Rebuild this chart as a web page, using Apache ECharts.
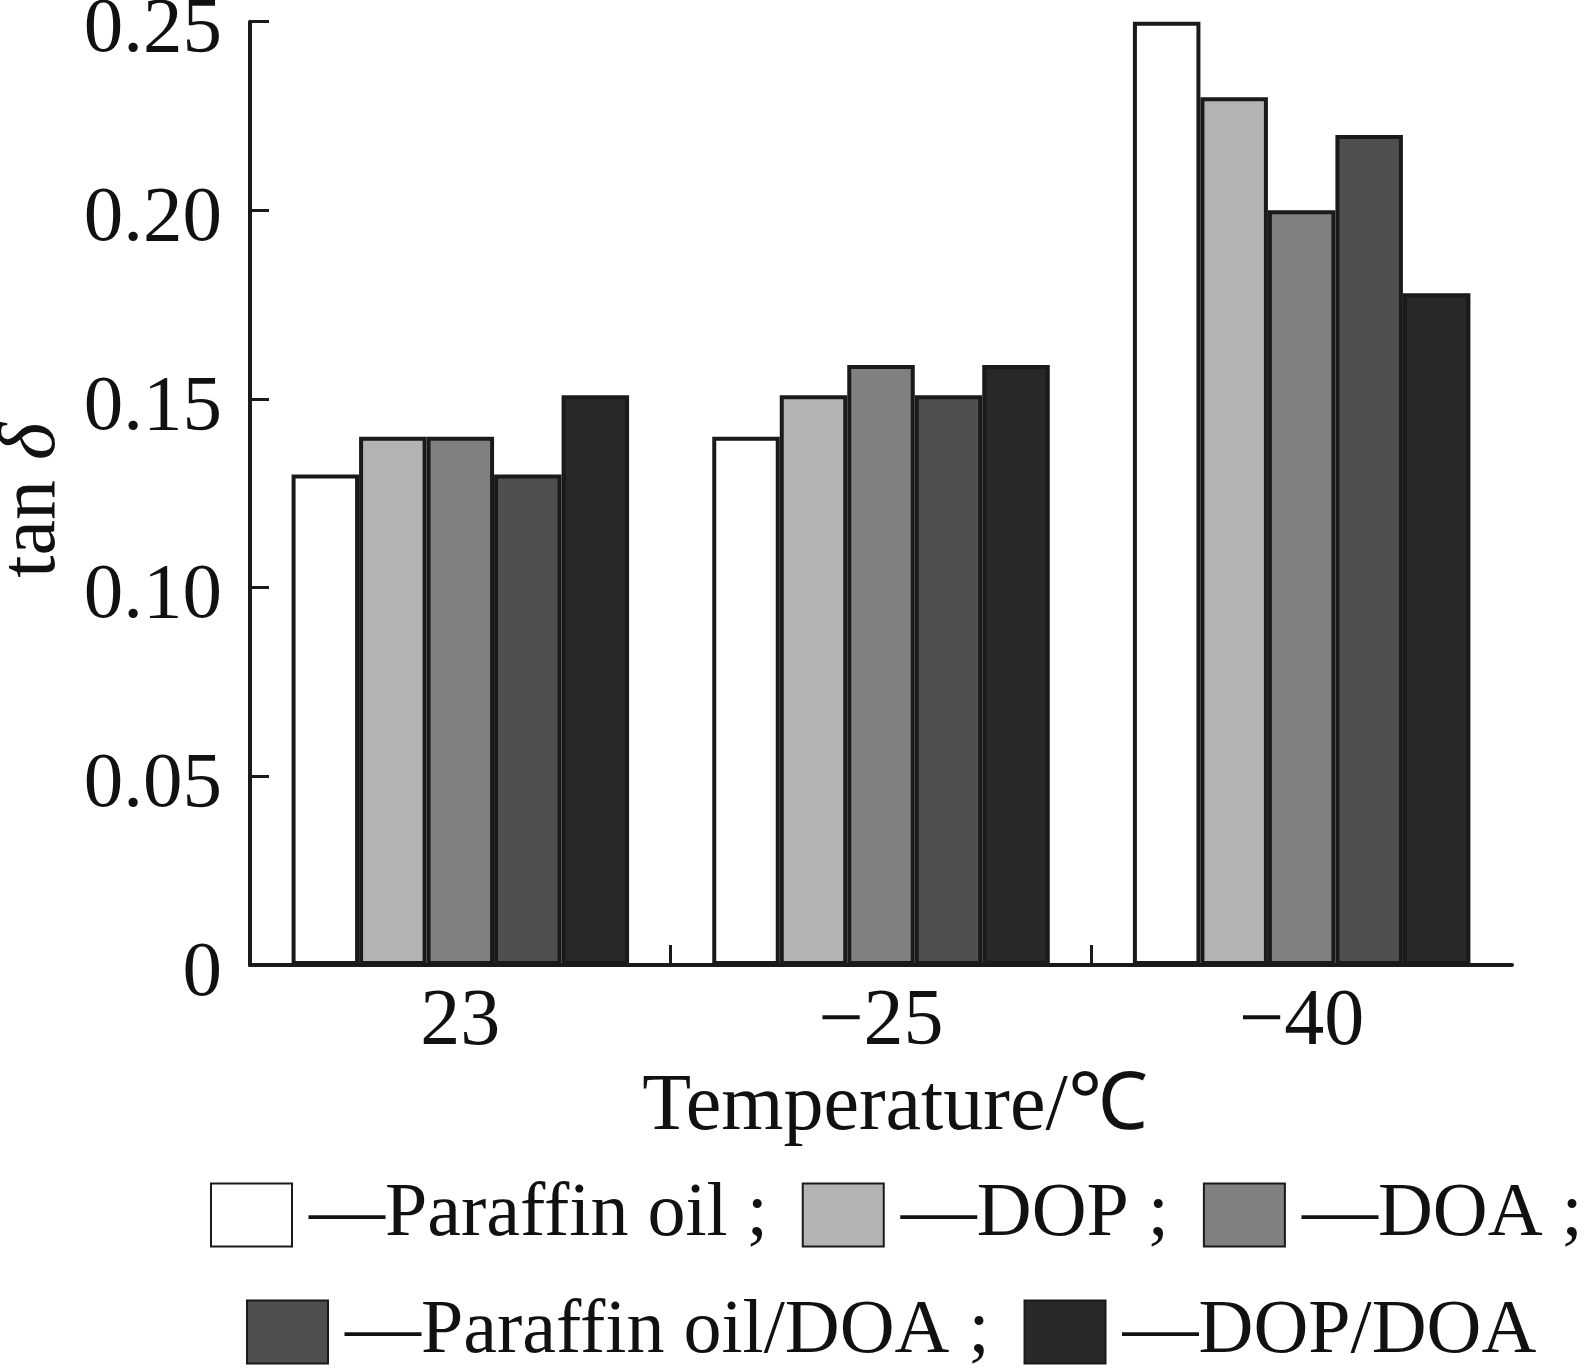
<!DOCTYPE html>
<html>
<head>
<meta charset="utf-8">
<script src="https://cdn.jsdelivr.net/npm/echarts@6/dist/echarts.min.js"></script>
<style>html,body{margin:0;padding:0;background:#fff;}#c{width:1587px;height:1371px;}</style>
</head>
<body>
<div id="c"></div>
<script>
const categories = ['23', '\u221225', '\u221240'];
const seriesNames = ['Paraffin oil', 'DOP', 'DOA', 'Paraffin oil/DOA', 'DOP/DOA'];
const paraffinOil = [0.13, 0.14, 0.25];
const dop = [0.14, 0.151, 0.230];
const doa = [0.14, 0.159, 0.200];
const paraffinDoa = [0.13, 0.151, 0.220];
const dopDoa = [0.151, 0.159, 0.178];
const yTicks = [0, 0.05, 0.10, 0.15, 0.20, 0.25];
const groupBoundaries = [1, 2];

const seriesData = [paraffinOil, dop, doa, paraffinDoa, dopDoa];
const fills = ['#ffffff', '#b3b3b3', '#808080', '#4f4f4f', '#282828'];
const FONT = 'Liberation Serif';

const chart = echarts.init(document.getElementById('c'));
const legendText = (name) => {
  const suffix = name === 'DOP/DOA' ? '' : ' ;';
  return '{t|\u2014' + name + suffix + '}';
};
const legendStyle = {
  color: '#111', fontFamily: FONT, fontSize: 76,
  rich: { t: { color: '#111', fontFamily: FONT, fontSize: 76, padding: [0, 0, 0, 12] } }
};
chart.setOption({
  animation: false,
  backgroundColor: '#ffffff',
  grid: { left: 250, right: 75, top: 21.7, bottom: 406, containLabel: false, outerBoundsMode: 'none' },
  xAxis: [
    {
      type: 'category',
      data: categories,
      boundaryGap: true,
      position: 'bottom',
      axisLine: { lineStyle: { color: '#1a1a1a', width: 4 } },
      axisTick: { show: false },
      axisLabel: { color: '#111', fontFamily: FONT, fontSize: 80, margin: 18 },
      name: 'Temperature/\u2103',
      nameLocation: 'middle',
      nameGap: 94,
      nameTextStyle: { color: '#111', fontFamily: FONT, fontSize: 80, padding: [0, 0, 0, 28] }
    },
    {
      type: 'value',
      position: 'bottom',
      min: 0, max: categories.length,
      axisLine: { show: false },
      axisLabel: { show: false },
      splitLine: { show: false },
      axisTick: { show: true, inside: true, length: 20, customValues: groupBoundaries,
        lineStyle: { color: '#1a1a1a', width: 3 } }
    }
  ],
  yAxis: {
    type: 'value',
    min: 0, max: 0.25, interval: 0.05,
    axisLine: { show: true, lineStyle: { color: '#1a1a1a', width: 4 } },
    axisTick: { show: true, inside: true, length: 19, lineStyle: { color: '#1a1a1a', width: 3 } },
    splitLine: { show: false },
    axisLabel: {
      margin: 28,
      formatter: function (v) {
        const t = yTicks.find(x => Math.abs(x - v) < 1e-9);
        return '{v|' + (t === 0 ? '0' : t.toFixed(2)) + '}';
      },
      rich: { v: { color: '#111', fontFamily: FONT, fontSize: 79, padding: [18, 0, 0, 0] } }
    },
    name: '{a|tan }{b|\u03b4}',
    nameLocation: 'middle',
    nameRotate: 90,
    nameGap: 175,
    nameTextStyle: {
      padding: [0, 14, 0, 0],
      rich: {
        a: { color: '#111', fontFamily: FONT, fontSize: 80 },
        b: { color: '#111', fontFamily: FONT, fontSize: 80, fontStyle: 'italic' }
      }
    }
  },
  legend: [
    {
      data: seriesNames.slice(0, 3), left: 210, top: 1177, width: 1500, padding: 0, orient: 'horizontal',
      itemWidth: 81, itemHeight: 63, itemGap: 34, icon: 'rect',
      formatter: legendText, textStyle: legendStyle
    },
    {
      data: seriesNames.slice(3), left: 246, top: 1294, width: 1500, padding: 0, orient: 'horizontal',
      itemWidth: 81, itemHeight: 63, itemGap: 34, icon: 'rect',
      formatter: legendText, textStyle: legendStyle
    }
  ],
  series: seriesNames.map((n, i) => ({
    name: n,
    type: 'bar',
    xAxisIndex: 0,
    data: seriesData[i],
    barWidth: 67.5,
    barGap: '0%',
    itemStyle: { color: fills[i], borderColor: '#1a1a1a', borderWidth: 4 }
  }))
});
</script>
</body>
</html>
